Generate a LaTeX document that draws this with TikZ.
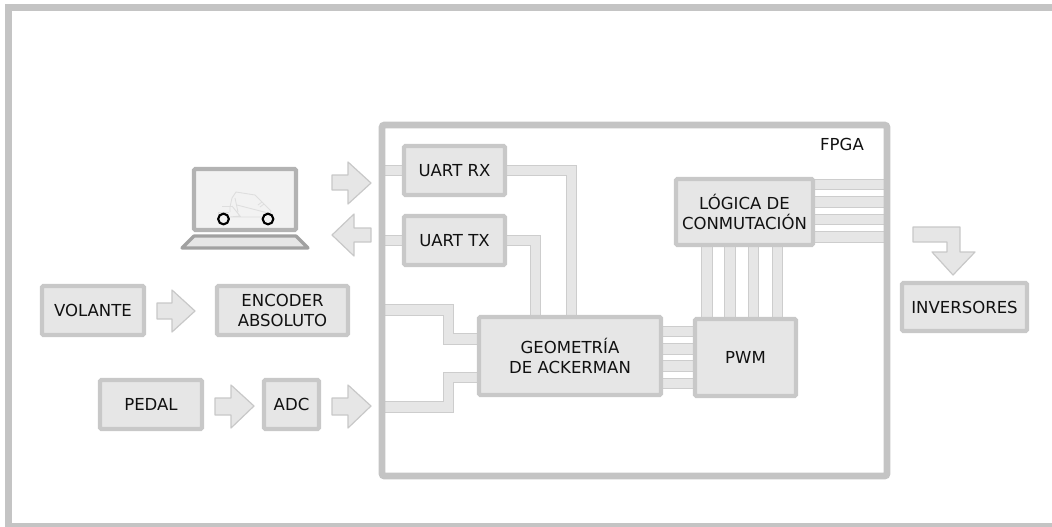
\documentclass[tikz,border=0pt]{standalone}
\usepackage{fontspec}
\setmainfont{DejaVu Sans}
\usetikzlibrary{backgrounds}
\definecolor{boxfill}{HTML}{E6E6E6}
\definecolor{boxline}{HTML}{C8C8C8}
\definecolor{frameline}{HTML}{C4C4C4}
\definecolor{inkc}{HTML}{111111}
\definecolor{lapline}{HTML}{B3B3B3}
\tikzset{
  x=0.75pt,y=-0.75pt,
  blk/.style n args={2}{draw=boxline,fill=boxfill,line width=3.2pt,rounded corners=1pt,outer sep=0pt,
     minimum width=#1*0.75pt,minimum height=#2*0.75pt,inner sep=0pt,align=center,
     font=\fontsize{12.4}{15.3}\selectfont,text=inkc},
  frame/.style n args={2}{draw=frameline,line width=5.2pt,rounded corners=2pt,outer sep=0pt,
     minimum width=#1*0.75pt,minimum height=#2*0.75pt,inner sep=0pt},
  bus/.style={draw=boxline!90!white,double=boxfill,double distance=7.2pt,line width=0.6pt,line join=miter},
  flow/.style={draw=boxline,fill=boxfill,line width=0.9pt,line join=round},
  lbl/.style={font=\fontsize{12.4}{15.3}\selectfont,text=inkc,inner sep=0pt},
  carline/.style={draw=black!13,line width=0.65pt},
  wheel/.style={circle,draw=black,line width=1.6pt,minimum size=8pt,inner sep=0pt,outer sep=0pt},
}
\begin{document}
\begin{tikzpicture}
\useasboundingbox (0,0) rectangle (1052,526);
\draw[frameline,line width=5.25pt] (1060,7.5) -- (8.5,7.5) -- (8.5,526) -- (1060,526);
\node[frame={505}{351}] (fpga) at (634.5,300.5) {};
\node[lbl] (fpgat) at (842,144) {FPGA};
\node[blk={101}{49}] (rx) at (454.5,170.5) {UART RX};
\node[blk={101}{49}] (tx) at (454.5,240.5) {UART TX};
\node[blk={137}{66}] (log) at (744.5,212) {LÓGICA DE\\CONMUTACIÓN};
\node[blk={182}{78}] (geo) at (570,356) {GEOMETRÍA\\DE ACKERMAN};
\node[blk={101}{77}] (pwm) at (745.5,357.5) {PWM};
\node[blk={125}{48}] (inv) at (964.5,307) {INVERSORES};
\node[blk={102}{49}] (vol) at (93,310.5) {VOLANTE};
\node[blk={131}{49}] (enc) at (282.5,310.5) {ENCODER\\ABSOLUTO};
\node[blk={102}{49}] (ped) at (151,404.5) {PEDAL};
\node[blk={55}{49}] (adc) at (291.5,404.5) {ADC};
% free bus ends / taps
\coordinate (g1) at (571.5,315);
\coordinate (g2) at (535.5,315);
\coordinate (i1) at (385,310);
\coordinate (i2) at (385,407);
\coordinate (e1) at (477,339);
\coordinate (e2) at (477,377.5);
\begin{scope}[on background layer]
\draw[bus] (rx.west) -- (rx.west -| fpga.west);
\draw[bus] (tx.west) -- (tx.west -| fpga.west);
\draw[bus] (rx.east) -| (g1);
\draw[bus] (tx.east) -| (g2);
\draw[bus] (i1) -- (448.5,310) |- (e1);
\draw[bus] (i2) -- (448.5,407) |- (e2);
\foreach \yy in {331.5,349,366,383.5} \draw[bus] (geo.east |- 0,\yy) -- (pwm.west |- 0,\yy);
\foreach \xx in {707,730,753.5,777.5} \draw[bus] (log.south -| \xx,0) -- (pwm.north -| \xx,0);
\foreach \yy in {184.5,202,219.5,237} \draw[bus] (log.east |- 0,\yy) -- (fpga.east |- 0,\yy);
\end{scope}
% block arrows
\draw[flow] (157,303) -- (172,303) -- (172,290) -- (195,311) -- (172,332) -- (172,319) -- (157,319) -- cycle;
\draw[flow] (215,398) -- (231,398) -- (231,385) -- (254,406) -- (231,428) -- (231,415) -- (215,415) -- cycle;
\draw[flow] (332,398) -- (348,398) -- (348,385) -- (371,406) -- (348,428) -- (348,415) -- (332,415) -- cycle;
\draw[flow] (332,175) -- (348,175) -- (348,162) -- (371,183) -- (348,204) -- (348,190) -- (332,190) -- cycle;
\draw[flow] (371,228) -- (354,228) -- (354,214) -- (332,235) -- (354,256) -- (354,242) -- (371,242) -- cycle;
\draw[flow] (913,227) -- (960,227) -- (960,252) -- (975,252) -- (953,275) -- (932,252) -- (947,252) -- (947,242) -- (913,242) -- cycle;
% laptop
\draw[lapline,fill=black!5,line width=3.2pt,rounded corners=1pt] (194,169) rectangle (296,230);
\draw[lapline!90!black,fill=boxfill,line width=2.4pt,line join=round] (194,236) -- (296,236) -- (308,248) -- (182,248) -- cycle;
\draw[carline] (218,219) -- (218,212) -- (229,212) (222,206) -- (232,206);
\draw[carline] (230,212) -- (230,207) -- (232,198) -- (236,192) -- (255,195) -- (271,211) -- (269,216);
\draw[carline] (237,205) -- (268,213);
\draw[carline] (230,217) -- (262,217) (232,206) -- (240,216) -- (230,217);
\draw[carline] (235,198) -- (238,212) (258,205) -- (262,202) (260,207) -- (264,204);
\node[wheel] (w1) at (223.5,219) {};
\node[wheel] (w2) at (268,219) {};
\end{tikzpicture}
\end{document}
